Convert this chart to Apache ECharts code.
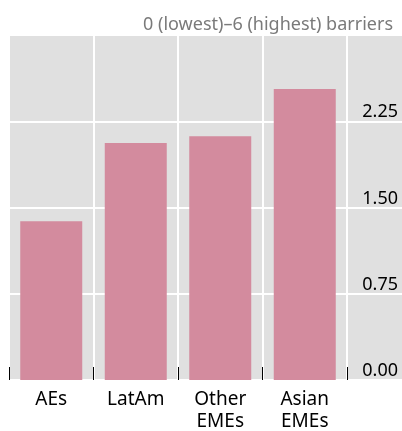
<!DOCTYPE html>
<html>
<head>
<meta charset="utf-8">
<script src="https://cdn.jsdelivr.net/npm/echarts@6/dist/echarts.min.js"></script>
<style>
  html, body { margin: 0; padding: 0; background: #fff; }
  #ech { width: 402px; height: 431px; }
</style>
</head>
<body>
<div id="ech"></div>
<script>
var categories = ["AEs", "LatAm", "Other\nEMEs", "Asian\nEMEs"];
var barriers = [1.38, 2.06, 2.12, 2.53];
var yTicks = [0, 0.75, 1.5, 2.25];
var unitNote = "0 (lowest)\u20136 (highest) barriers";

var font = "'Noto Sans', 'Open Sans', sans-serif";
var myChart = echarts.init(document.getElementById("ech"));

var option = {
  animation: false,
  textStyle: { fontFamily: font },
  title: {
    text: unitNote,
    right: 4,
    top: 11,
    textStyle: { fontFamily: font, fontSize: 18, fontWeight: "normal", color: "#7a7a7a" }
  },
  grid: [
    { left: 9, right: 55, top: 35, bottom: 51, outerBoundsMode: "none", containLabel: false },
    { left: 9, right: 0, top: 35, bottom: 51, outerBoundsMode: "none", containLabel: false,
      show: true, backgroundColor: "#e0e0e0", borderWidth: 0, z: 0 }
  ],
  xAxis: [
    {
      type: "category",
      gridIndex: 0,
      data: categories,
      axisLine: { show: false },
      axisTick: { show: true, inside: true, length: 13, lineStyle: { color: "#000", width: 1 } },
      splitLine: { show: true, lineStyle: { color: "#fff", width: 2 } },
      axisLabel: { color: "#000", fontSize: 19, lineHeight: 22, margin: 9 }
    },
    { type: "category", gridIndex: 1, data: [""], show: false }
  ],
  yAxis: [
    { type: "value", gridIndex: 0, min: 0, max: 3, interval: 0.75, show: false },
    {
      type: "value",
      gridIndex: 1,
      position: "right",
      min: 0,
      max: 3,
      interval: 0.75,
      axisLine: { show: false },
      axisTick: { show: false },
      splitLine: { show: true, lineStyle: { color: "#fff", width: 2 } },
      axisLabel: {
        inside: true,
        margin: 4,
        color: "#000",
        fontSize: 18,
        verticalAlign: "bottom",
        formatter: function (v) {
          return yTicks.indexOf(v) >= 0 ? v.toFixed(2) : "";
        }
      }
    }
  ],
  series: [
    {
      type: "bar",
      xAxisIndex: 0,
      yAxisIndex: 0,
      data: barriers,
      barWidth: 62,
      itemStyle: { color: "#d38b9e" },
      z: 3
    }
  ]
};

myChart.setOption(option);
</script>
</body>
</html>
